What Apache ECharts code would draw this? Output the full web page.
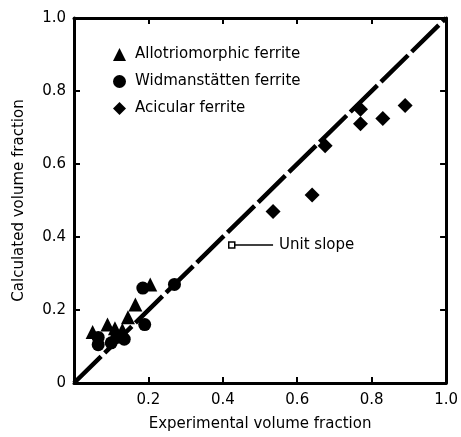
<!DOCTYPE html>
<html>
<head>
<meta charset="utf-8">
<script src="https://cdn.jsdelivr.net/npm/echarts@6/dist/echarts.min.js"></script>
<style>
  html, body { margin: 0; padding: 0; background: #fff; }
  #chart { width: 461px; height: 437px; }
</style>
</head>
<body>
<div id="chart"></div>
<script>
// data (experimental, calculated)
const allotriomorphic = [
  [0.05, 0.14], [0.09, 0.16], [0.11, 0.15], [0.13, 0.145],
  [0.145, 0.18], [0.165, 0.215], [0.205, 0.27]
];
const widmanstatten = [
  [0.065, 0.125], [0.065, 0.105], [0.10, 0.11], [0.115, 0.125],
  [0.135, 0.12], [0.19, 0.16], [0.185, 0.26], [0.27, 0.27]
];
const acicular = [
  [0.535, 0.47], [0.64, 0.515], [0.675, 0.65], [0.77, 0.75],
  [0.77, 0.71], [0.83, 0.725], [0.89, 0.76]
];
const unitLine = [[0, 0], [1, 1]];
const unitSlopeNote = [[0.424, 0.378], [0.535, 0.378]];

const font = "DejaVu Sans";

const myChart = echarts.init(document.getElementById("chart"));

function axisBase(pos) {
  return {
    type: "value",
    min: 0,
    max: 1,
    interval: 0.2,
    position: pos,
    axisLine: { show: true, onZero: false, lineStyle: { color: "#000", width: 3 } },
    axisTick: { show: true, inside: true, length: 6, lineStyle: { color: "#000", width: 2 } },
    splitLine: { show: false },
  };
}

const option = {
  animation: false,
  grid: { left: 74, right: 12, top: 18, bottom: 54 },
  legend: {
    orient: "vertical",
    left: 108,
    top: 42,
    itemGap: 12,
    itemWidth: 13,
    itemHeight: 13,
    textStyle: { fontFamily: font, fontSize: 15, color: "#000", padding: [0, 0, 0, 4] },
    data: [
      { name: "Allotriomorphic ferrite", icon: "triangle" },
      { name: "Widmanstätten ferrite", icon: "circle" },
      { name: "Acicular ferrite", icon: "diamond" },
    ],
  },
  xAxis: [
    Object.assign(axisBase("bottom"), {
      name: "Experimental volume fraction",
      nameLocation: "middle",
      nameGap: 34,
      nameTextStyle: { fontFamily: font, fontSize: 15, color: "#000" },
      axisLabel: {
        fontFamily: font, fontSize: 15, color: "#000", margin: 10,
        formatter: (v) => (v === 0 ? "" : v.toFixed(1)),
      },
    }),
    Object.assign(axisBase("top"), { axisLabel: { show: false } }),
  ],
  yAxis: [
    Object.assign(axisBase("left"), {
      name: "Calculated volume fraction",
      nameLocation: "middle",
      nameGap: 47,
      nameTextStyle: { fontFamily: font, fontSize: 15, color: "#000" },
      axisLabel: {
        fontFamily: font, fontSize: 15, color: "#000", margin: 8,
        formatter: (v) => (v === 0 ? "0" : v.toFixed(1)),
      },
    }),
    Object.assign(axisBase("right"), { axisLabel: { show: false } }),
  ],
  series: [
    {
      name: "unit",
      type: "line",
      data: unitLine,
      symbol: "none",
      lineStyle: { color: "#000", width: 4.5, type: [38, 5] },
      z: 1,
    },
    {
      name: "note",
      type: "line",
      data: unitSlopeNote.map((p, i) => ({ value: p, symbol: i === 0 ? "rect" : "none" })),
      symbolSize: 6,
      showAllSymbol: true,
      itemStyle: { color: "#fff", borderColor: "#000", borderWidth: 1.5, opacity: 1 },
      lineStyle: { color: "#000", width: 1.5 },
      endLabel: {
        show: true,
        distance: 6,
        formatter: "Unit slope",
        fontFamily: font, fontSize: 15, color: "#000",
      },
      z: 2,
    },
    {
      name: "Allotriomorphic ferrite",
      type: "scatter",
      data: allotriomorphic,
      symbol: "triangle",
      symbolSize: 14,
      itemStyle: { color: "#000", opacity: 1 },
      z: 3,
    },
    {
      name: "Widmanstätten ferrite",
      type: "scatter",
      data: widmanstatten,
      symbol: "circle",
      symbolSize: 13,
      itemStyle: { color: "#000", opacity: 1 },
      z: 3,
    },
    {
      name: "Acicular ferrite",
      type: "scatter",
      data: acicular,
      symbol: "diamond",
      symbolSize: 15,
      itemStyle: { color: "#000", opacity: 1 },
      z: 3,
    },
  ],
};

myChart.setOption(option);
</script>
</body>
</html>
